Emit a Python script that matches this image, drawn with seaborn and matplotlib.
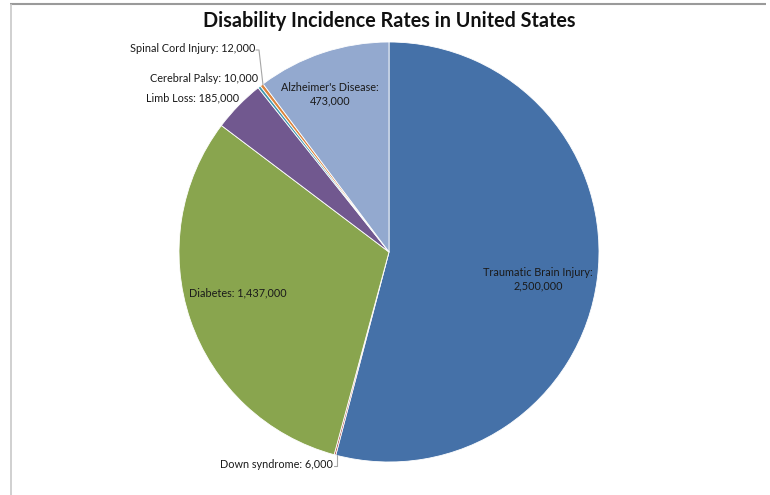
import matplotlib
matplotlib.use("Agg")
import matplotlib.pyplot as plt
import seaborn as sns

# Data
categories = ["Traumatic Brain Injury", "Down syndrome", "Diabetes", "Limb Loss",
              "Cerebral Palsy", "Spinal Cord Injury", "Alzheimer's Disease"]
values = [2500000, 6000, 1437000, 185000, 10000, 12000, 473000]
colors = ["#4571A8", "#AA4643", "#89A54E", "#71588F", "#4198AF", "#DB843D", "#93A9CF"]

sns.set_theme(style="white")
plt.rcParams['font.family'] = ['Lato', 'DejaVu Sans']

W, H = 770, 495
fig = plt.figure(figsize=(W / 100, H / 100), dpi=100)
ax = fig.add_axes([0, 0, 1, 1])

def Y(py):
    return H - py

cx, cy, r = 389, 252, 210
palette = sns.color_palette(colors)
ax.pie(values, colors=palette, startangle=90, counterclock=False,
       center=(cx, Y(cy)), radius=r, frame=False,
       wedgeprops=dict(edgecolor="white", linewidth=0.6))
ax.set_xlim(0, W)
ax.set_ylim(0, H)
ax.set_aspect("equal")
ax.axis("off")

def fmt(v):
    return f"{v:,}"

lab = {c: f"{c}: {fmt(v)}" for c, v in zip(categories, values)}
fs = 7.8
tc = "#1a1a1a"

# inside labels
ax.text(538, Y(279), f"{categories[0]}:\n{fmt(values[0])}", ha="center", va="center",
        fontsize=fs, color=tc, linespacing=1.3)
ax.text(189, Y(293), lab["Diabetes"], ha="left", va="center", fontsize=fs, color=tc)
ax.text(330, Y(94), f"{categories[6]}:\n{fmt(values[6])}", ha="center", va="center",
        fontsize=fs, color=tc, linespacing=1.3)

# outside labels
ax.text(239, Y(98), lab["Limb Loss"], ha="right", va="center", fontsize=fs, color=tc)
ax.text(258, Y(79), lab["Cerebral Palsy"], ha="right", va="center", fontsize=fs, color=tc)
ax.text(255, Y(49), lab["Spinal Cord Injury"], ha="right", va="center", fontsize=fs, color=tc)
ax.text(333, Y(465), lab["Down syndrome"], ha="right", va="center", fontsize=fs, color=tc)

# leader lines
lc = "#a6a6a6"
ax.plot([256, 259, 263], [Y(50), Y(50), Y(85)], color=lc, lw=0.8)
ax.plot([334, 337, 337], [Y(466), Y(466), Y(455)], color=lc, lw=0.8)

# title
ax.text(389, Y(21), "Disability Incidence Rates in United States", ha="center", va="center",
        fontsize=14.2, fontweight="bold", color="#111111")

# frame lines (top and left)
ax.plot([10, 766], [Y(3.5), Y(3.5)], color="#9a9a9a", lw=1.5, solid_capstyle="butt")
ax.plot([10.5, 10.5], [Y(3.5), Y(495)], color="#c8c8c8", lw=1.2, solid_capstyle="butt")

fig.savefig("out.png", dpi=100, facecolor="white")
